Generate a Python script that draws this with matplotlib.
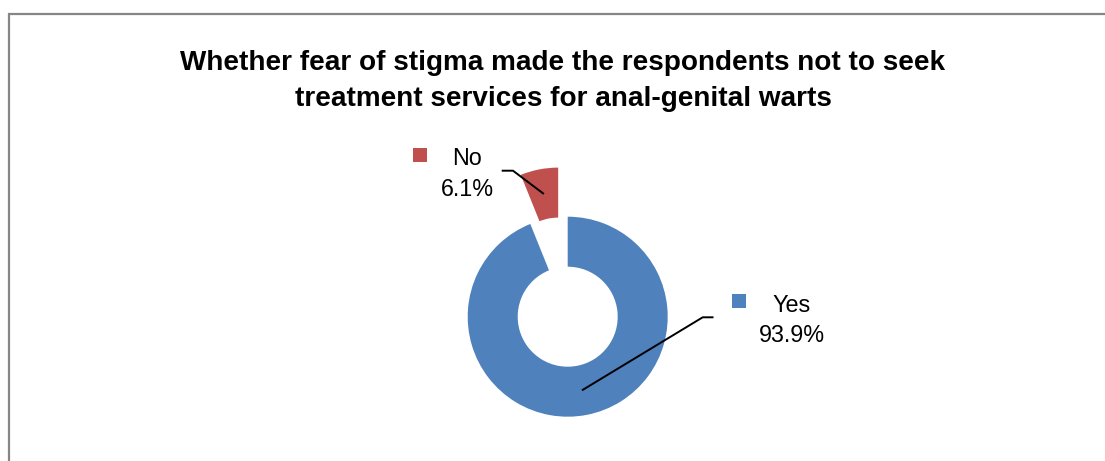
import matplotlib.pyplot as plt
import matplotlib.patches as patches
import numpy as np

plt.rcParams['font.family'] = ['Liberation Sans', 'DejaVu Sans']

title = "Whether fear of stigma made the respondents not to seek\ntreatment services for anal-genital warts"
labels = ["Yes", "No"]
values = [93.9, 6.1]
colors = ["#4F81BD", "#C0504D"]
explode = [0, 0.5]

W, H = 1105, 461
fig = plt.figure(figsize=(W / 100, H / 100), dpi=100)

# outer chart frame (runs off the right and bottom edge)
frame = patches.Rectangle((8.5 / W, -0.1), 1.2, (H - 13.5) / H + 0.1,
                          transform=fig.transFigure, fill=False,
                          edgecolor="#868686", linewidth=1.6)
fig.patches.append(frame)

fig.text(563 / W, 1 - 80.5 / H, title, ha="center", va="center",
         fontsize=20.1, fontweight="bold", linespacing=1.5)

# pie axes: centre at (567.7, 316.7) px, radius 1 = 100 px
cx, cy, half = 567.7, 316.7, 200
ax = fig.add_axes([(cx - half) / W, (H - cy - half) / H, 2 * half / W, 2 * half / H])

wedges, _ = ax.pie(values, colors=colors, explode=explode, startangle=90,
                   counterclock=False, radius=1,
                   wedgeprops=dict(width=0.5, edgecolor="none"))
ax.set_xlim(-2, 2)
ax.set_ylim(-2, 2)
ax.axis("off")


def px(x, y):
    return (x - cx) / 100, (cy - y) / 100


# label blocks: key square position, text centre, leader elbow
label_layout = {
    "Yes": dict(key=(731.5, 294), text=(792, 320.5), elbow=[(713.5, 317.3), (702.7, 317.3)]),
    "No": dict(key=(412.5, 147.5), text=(467, 174), elbow=[(501.7, 170.7), (513, 170.7)]),
}

for w, lab, val, col, ex in zip(wedges, labels, values, colors, explode):
    mid = np.deg2rad((w.theta1 + w.theta2) / 2)
    ox, oy = ex * np.cos(mid), ex * np.sin(mid)
    tip = (ox + 0.75 * np.cos(mid), oy + 0.75 * np.sin(mid))
    lay = label_layout[lab]
    kx, ky = px(*lay["key"])
    ax.add_patch(patches.Rectangle((kx, ky - 0.14), 0.14, 0.14, facecolor=col, edgecolor="none"))
    tx, ty = px(*lay["text"])
    ax.text(tx, ty, f"{lab}\n{val}%", ha="center", va="center", fontsize=16.8,
            linespacing=1.42)
    pts = [px(*p) for p in lay["elbow"]] + [tip]
    xs, ys = zip(*pts)
    ax.plot(xs, ys, color="black", linewidth=1.4, solid_capstyle="butt")

fig.savefig("out.png", dpi=100)
